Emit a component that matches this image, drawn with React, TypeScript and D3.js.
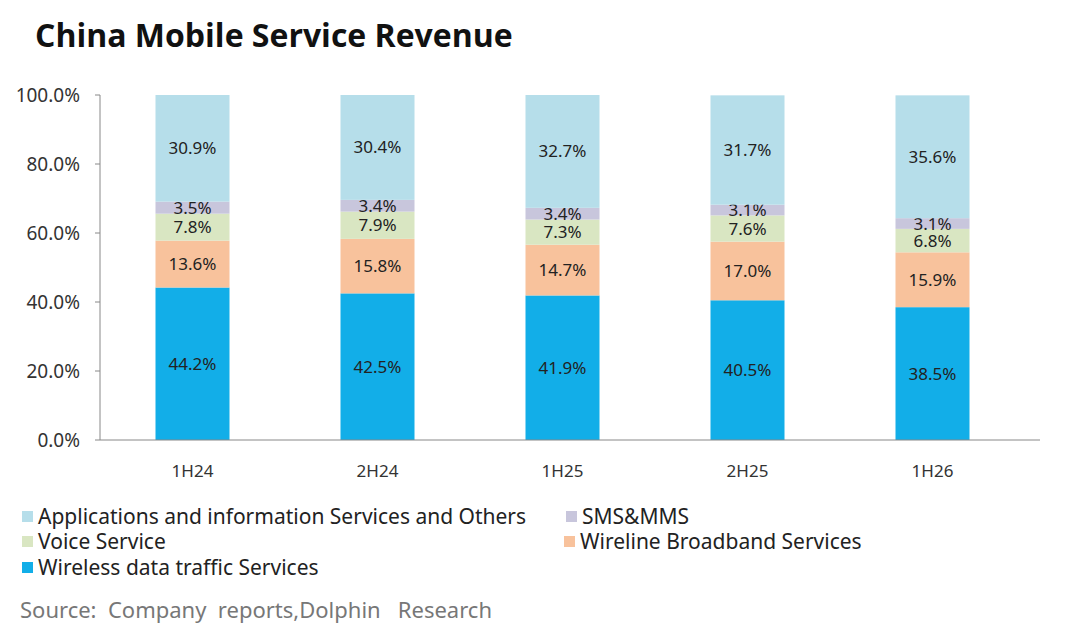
import React from "react";
import * as d3 from "d3";

const periods = ["1H24", "2H24", "1H25", "2H25", "1H26"];
const wireless = [44.2, 42.5, 41.9, 40.5, 38.5];
const wireline = [13.6, 15.8, 14.7, 17.0, 15.9];
const voice = [7.8, 7.9, 7.3, 7.6, 6.8];
const sms = [3.5, 3.4, 3.4, 3.1, 3.1];
const apps = [30.9, 30.4, 32.7, 31.7, 35.6];
const yTicks = [0, 20, 40, 60, 80, 100];

const series = [
  { key: "wireless", name: "Wireless data traffic Services", values: wireless, color: "#12AEE8" },
  { key: "wireline", name: "Wireline Broadband Services", values: wireline, color: "#F8C29C" },
  { key: "voice", name: "Voice Service", values: voice, color: "#D9E6C2" },
  { key: "sms", name: "SMS&MMS", values: sms, color: "#C8C6DC" },
  { key: "apps", name: "Applications and information Services and Others", values: apps, color: "#B6DEEA" },
];

export default function App() {
  const left = 100, right = 1025, top = 95, bottom = 440;
  const x = d3.scaleBand().domain(periods).range([left, right]).paddingInner(0.6).paddingOuter(0.3);
  const y = d3.scaleLinear().domain([0, 100]).range([bottom, top]);
  const rows = periods.map((p, i) => {
    const r: any = { period: p };
    series.forEach((s) => (r[s.key] = s.values[i]));
    return r;
  });
  const stacked = d3.stack<any>().keys(series.map((s) => s.key))(rows);
  const font = "'Noto Sans', 'DejaVu Sans', sans-serif";

  const legend = [
    { s: series[4], x: 22, y: 524 },
    { s: series[3], x: 566, y: 524 },
    { s: series[2], x: 22, y: 549 },
    { s: series[1], x: 564, y: 549 },
    { s: series[0], x: 22, y: 575 },
  ];

  return (
    <svg width={1080} height={637} style={{ position: "absolute", left: 0, top: 0, background: "#fff" }} fontFamily={font}>
      <rect width={1080} height={637} fill="#fff" />
      <text x={35} y={47} fontSize={32} fontWeight="bold" fill="#111" fontFamily="'Open Sans', sans-serif">China Mobile Service Revenue</text>
      {stacked.map((layer, li) => (
        <g key={layer.key}>
          {layer.map((d, i) => (
            <g key={i}>
              <rect x={x(periods[i])} y={y(d[1])} width={x.bandwidth()} height={y(d[0]) - y(d[1])} fill={series[li].color} />
              <text x={x(periods[i])! + x.bandwidth() / 2} y={(y(d[0]) + y(d[1])) / 2 + 6} textAnchor="middle" fontSize={17} fill="#222">
                {series[li].values[i].toFixed(1)}%
              </text>
            </g>
          ))}
        </g>
      ))}
      <line x1={left} x2={left} y1={top} y2={bottom} stroke="#888" />
      <line x1={left} x2={right + 15} y1={bottom} y2={bottom} stroke="#888" />
      {yTicks.map((t) => (
        <g key={t}>
          <line x1={left - 5} x2={left} y1={y(t)} y2={y(t)} stroke="#888" />
          <text x={80} y={y(t) + 7} textAnchor="end" fontSize={19} fill="#333">{t.toFixed(1)}%</text>
        </g>
      ))}
      {periods.map((p) => (
        <text key={p} x={x(p)! + x.bandwidth() / 2} y={477} textAnchor="middle" fontSize={17} fill="#333">{p}</text>
      ))}
      {legend.map((l) => (
        <g key={l.s.key}>
          <rect x={l.x} y={l.y - 13} width={11} height={11} fill={l.s.color} />
          <text x={l.x + 16} y={l.y} fontSize={21} fill="#222">{l.s.name}</text>
        </g>
      ))}
      <text x={20} y={618} fontSize={22} fill="#777" style={{ whiteSpace: "pre" }}>Source:  Company  reports,Dolphin   Research</text>
    </svg>
  );
}
